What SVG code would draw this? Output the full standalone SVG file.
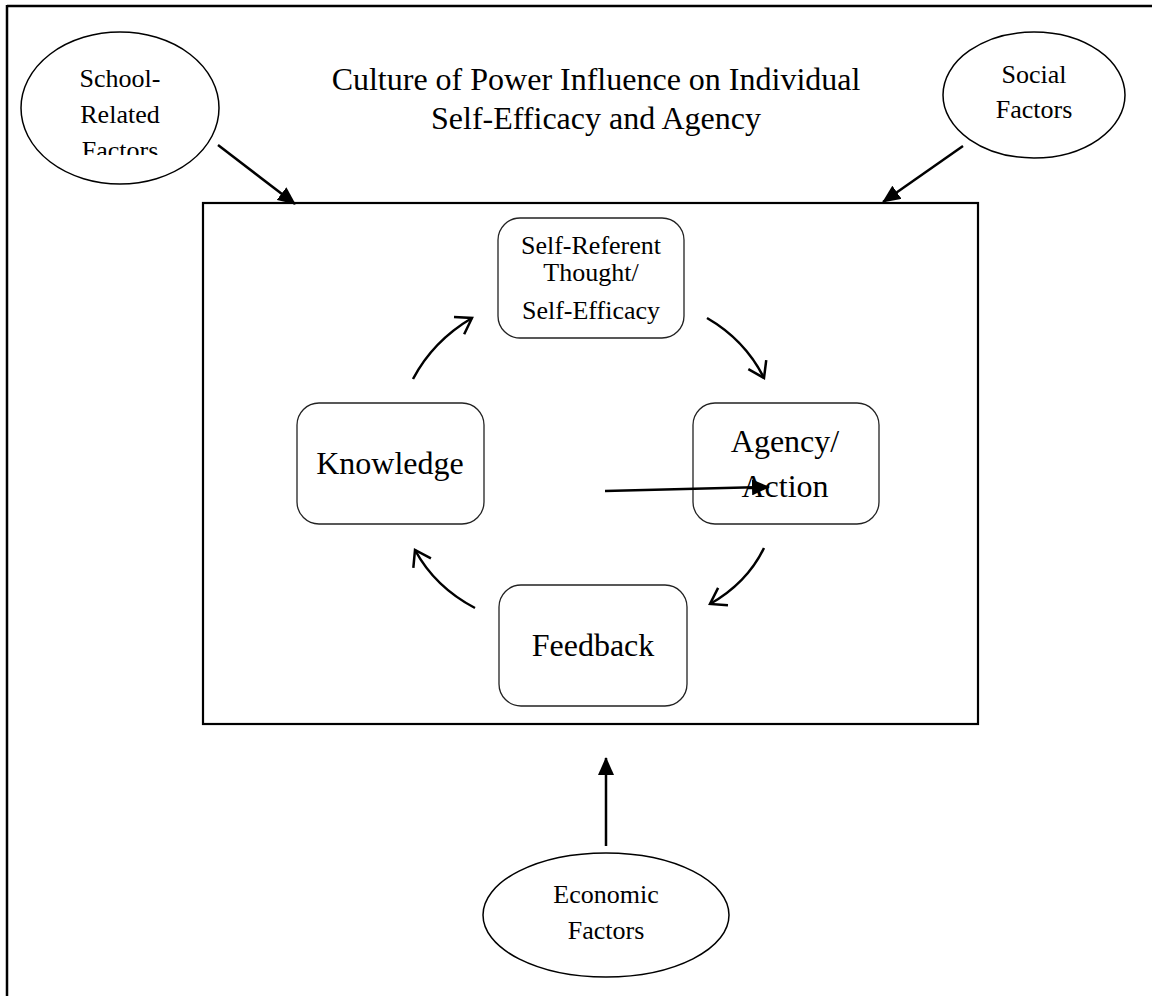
<svg xmlns="http://www.w3.org/2000/svg" width="1152" height="996" viewBox="0 0 1152 996">
<style>
text{font-family:"Liberation Serif","Times New Roman",serif;fill:#000;text-anchor:middle}
.t32{font-size:32px}
.t26{font-size:26px}
.box{fill:#fff;stroke:#222;stroke-width:1.3}
.ell{fill:#fff;stroke:#000;stroke-width:1.5}
.solid{stroke:#000;stroke-width:2.5;fill:none}
.curve{stroke:#000;stroke-width:2.5;fill:none}
</style>
<defs>
<marker id="fill" markerUnits="userSpaceOnUse" markerWidth="20" markerHeight="16" refX="17" refY="8" orient="auto">
<path d="M0,0 L18,8 L0,16 Z" fill="#000"/>
</marker>
<marker id="open" markerUnits="userSpaceOnUse" markerWidth="22" markerHeight="24" refX="17" refY="12" orient="auto">
<path d="M2,2 L17,12 L2,22" fill="none" stroke="#000" stroke-width="2.5"/>
</marker>
<clipPath id="clipSchool"><rect x="20" y="30" width="200" height="125"/></clipPath>
</defs>
<g id="frame">
<line x1="7" y1="6" x2="1152" y2="6" stroke="#000" stroke-width="2.5"/>
<line x1="7" y1="5" x2="7" y2="996" stroke="#000" stroke-width="2.5"/>
</g>
<g id="title">
<text class="t32" x="596" y="90">Culture of Power Influence on Individual</text>
<text class="t32" x="596" y="129">Self-Efficacy and Agency</text>
</g>
<g id="main-box"><rect x="203" y="203" width="775" height="521" fill="none" stroke="#000" stroke-width="2.2"/></g>
<g id="school">
<ellipse class="ell" cx="120" cy="108" rx="99" ry="76"/>
<g clip-path="url(#clipSchool)">
<text class="t26" x="120" y="87">School-</text>
<text class="t26" x="120" y="123">Related</text>
<text class="t26" x="120" y="159">Factors</text>
</g>
</g>
<g id="social">
<ellipse class="ell" cx="1034" cy="95" rx="91" ry="63"/>
<text class="t26" x="1034" y="83">Social</text>
<text class="t26" x="1034" y="118">Factors</text>
</g>
<g id="economic">
<ellipse class="ell" cx="606" cy="915" rx="123" ry="62"/>
<text class="t26" x="606" y="903">Economic</text>
<text class="t26" x="606" y="939">Factors</text>
</g>
<g id="selfref">
<rect class="box" x="498" y="218" width="186" height="120" rx="22"/>
<text class="t26" x="591" y="254">Self-Referent</text>
<text class="t26" x="591" y="281">Thought/</text>
<text class="t26" x="591" y="319">Self-Efficacy</text>
</g>
<g id="agency">
<rect class="box" x="693" y="403" width="186" height="121" rx="22"/>
<text class="t32" x="785" y="452">Agency/</text>
<text class="t32" x="785" y="497">Action</text>
</g>
<g id="knowledge">
<rect class="box" x="297" y="403" width="187" height="121" rx="22"/>
<text class="t32" x="390" y="474">Knowledge</text>
</g>
<g id="feedback">
<rect class="box" x="499" y="585" width="188" height="121" rx="22"/>
<text class="t32" x="593" y="656">Feedback</text>
</g>
<g id="connectors">
<line class="solid" x1="218" y1="145" x2="295" y2="204" marker-end="url(#fill)"/>
<line class="solid" x1="963" y1="146" x2="883" y2="202" marker-end="url(#fill)"/>
<line class="solid" x1="606" y1="846" x2="606" y2="758" marker-end="url(#fill)"/>
<line class="solid" x1="605" y1="491" x2="769" y2="487" marker-end="url(#fill)"/>
<path class="curve" d="M413,379 Q433,341 472,318" marker-end="url(#open)"/>
<path class="curve" d="M707,318 Q745,340 764,378" marker-end="url(#open)"/>
<path class="curve" d="M764,548 Q747,583 710,604" marker-end="url(#open)"/>
<path class="curve" d="M475,608 Q435,587 415,550" marker-end="url(#open)"/>
</g>
</svg>
